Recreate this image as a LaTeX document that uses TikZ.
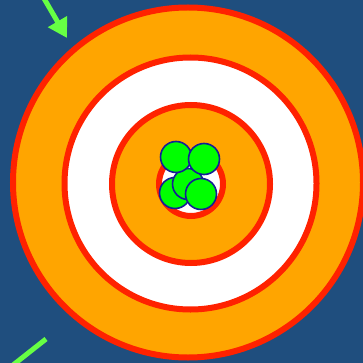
\documentclass[tikz,border=0pt]{standalone}
\usetikzlibrary{arrows.meta}
\definecolor{bg}{RGB}{31,78,126}
\definecolor{ring}{RGB}{255,34,0}
\definecolor{gold}{RGB}{255,165,0}
\definecolor{ball}{RGB}{0,255,0}
\definecolor{ballline}{RGB}{20,30,150}
\definecolor{arrowgreen}{RGB}{102,255,68}
\begin{document}
\begin{tikzpicture}[x=1pt,y=-1pt,
  target/.style={circle,draw=ring,line width=6pt,inner sep=0pt,minimum size=#1},
  marble/.style={circle,draw=ballline,fill=ball,line width=1.6pt,inner sep=0pt,minimum size=31pt},
  pointer/.style={draw=arrowgreen,line width=5pt}]
\useasboundingbox (0,0) rectangle (363,363);
\clip (0,0) rectangle (363,363);
\fill[bg] (0,0) rectangle (363,363);
\node[target=350pt,fill=gold] (r1) at (188,182.5) {};
\node[target=252pt,fill=white] (r2) at (190.5,183.5) {};
\node[target=158pt,fill=gold] (r3) at (191,184) {};
\node[target=64pt,fill=white] (r4) at (191,184) {};
\node[marble] (m1) at (175,193) {};
\node[marble] (m2) at (188,184) {};
\node[marble] (m3) at (176,157) {};
\node[marble] (m4) at (204,159) {};
\node[marble] (m5) at (201,194) {};
\coordinate (a1s) at (42,-5);
\coordinate (a1e) at (67,38);
\draw[pointer,-{Triangle[length=19pt,width=21pt]}] (a1s) -- (a1e);
\coordinate (a2s) at (46,339);
\coordinate (a2e) at (8,369);
\draw[pointer] (a2s) -- (a2e);
\end{tikzpicture}
\end{document}
